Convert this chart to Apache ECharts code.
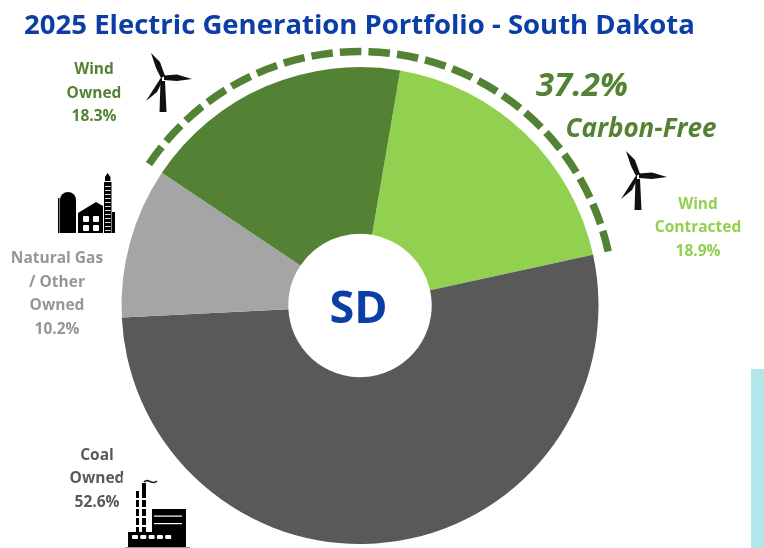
<!DOCTYPE html>
<html>
<head>
<meta charset="utf-8">
<title>2025 Electric Generation Portfolio - South Dakota</title>
<script src="https://cdn.jsdelivr.net/npm/echarts@6/dist/echarts.min.js"></script>
<style>
  html, body { margin: 0; padding: 0; background: #fff; }
  #chart { width: 764px; height: 548px; }
</style>
</head>
<body>
<div id="chart"></div>
<script>
// chart data, clockwise from the top
const categories = ['Wind\nContracted', 'Coal\nOwned', 'Natural Gas\n/ Other\nOwned', 'Wind\nOwned'];
const shares = [18.9, 52.6, 10.2, 18.3];
const carbonFreeShare = '37.2%';
const carbonFreeText = 'Carbon-Free';
const centerText = 'SD';
const titleText = '2025 Electric Generation Portfolio - South Dakota';

// colours and label anchors, same order as categories
const sliceColors = ['#92d050', '#595959', '#a5a5a5', '#548235'];
const labelColors = ['#92d050', '#595959', '#969696', '#548235'];
const labelAnchors = [[698, 228], [97, 479], [57, 294], [94, 93.5]];

const FONT = '"Open Sans", "Noto Sans", sans-serif';
const GREEN = '#548235';
const BLUE = '#0b3fa6';
const CX = 360, CY = 305.5;
const START_COMPASS = 9.7; // first slice starts this many degrees past north

function shape(type, props, fill) {
    return Object.assign({ type: type, silent: true, style: { fill: fill || '#000' } }, props);
}
function box(x, y, w, h, fill, r) {
    return shape('rect', { shape: { x: x, y: y, width: w, height: h, r: r || 0 } }, fill);
}
function poly(points, fill) {
    return shape('polygon', { shape: { points: points } }, fill);
}

// slice labels sit beside the pie, away from their slices
function sliceLabel(i) {
    return {
        type: 'text', silent: true, x: labelAnchors[i][0], y: labelAnchors[i][1],
        style: {
            text: categories[i] + '\n' + shares[i].toFixed(1) + '%',
            fill: labelColors[i],
            font: 'bold 15.5px ' + FONT,
            lineHeight: 23.5,
            textAlign: 'center',
            textVerticalAlign: 'middle'
        }
    };
}

// wind turbine, drawn around its hub
function turbine(x, y) {
    const parts = [
        [[-12, -25], [-3, -16], [2, -2], [-2, 0], [-7, -10]],
        [[1, -2.5], [14, -3.5], [29, 1], [14, 3], [1, 2]],
        [[-1, -1], [-3, 1], [-10, 12], [-17, 23], [-6, 14], [-1, 4]],
        [[-2.5, 3], [2, 3], [3.5, 34], [-3.5, 34]]
    ];
    return {
        type: 'group', x: x, y: y, silent: true,
        children: parts.map(p => poly(p, '#111'))
    };
}

// silo, barn and gas stack
function barnIcon() {
    const kids = [
        box(58, 198, 1.5, 35),
        box(60, 192, 16, 41, '#000', [8, 8, 0, 0]),
        poly([[78, 213], [96, 202], [103, 206], [103, 233], [78, 233]]),
        box(104, 182, 7.5, 51),
        box(112, 212, 3, 21),
        poly([[105, 181], [105, 177], [107.5, 173], [110.5, 177], [110.5, 181]])
    ];
    [[83, 216], [93, 216], [83, 225], [93, 225]].forEach(p => {
        kids.push(box(p[0], p[1], 6, 6, '#fff', 1));
    });
    for (let y = 186; y < 232; y += 4) {
        kids.push(box(105, y, 5.5, 1, '#ddd'));
    }
    return { type: 'group', silent: true, children: kids };
}

// factory with two chimneys
function factoryIcon() {
    const kids = [
        // white backing of the pasted icon clips the label next to it
        box(122.5, 475.5, 6, 11, '#fff'),
        box(152, 509, 34, 38),
        box(154, 515.5, 28, 1.2, '#fff'),
        box(154, 523, 28, 1.2, '#fff'),
        box(128, 532, 47, 15),
        box(125, 547, 65, 1, '#999'),
        box(136, 491, 3, 41),
        box(142, 483, 4, 49)
    ];
    [0, 1, 2, 3, 4].forEach(i => kids.push(box(132 + i * 8.3, 535, 6, 4, '#fff', 1)));
    [498, 507, 516, 525].forEach(y => {
        kids.push(box(136, y, 3, 2, '#fff'));
        kids.push(box(142, y, 4, 2, '#fff'));
    });
    kids.push({
        type: 'bezierCurve', silent: true,
        shape: { x1: 144, y1: 482, x2: 157, y2: 481, cpx1: 148, cpy1: 477, cpx2: 152, cpy2: 486 },
        style: { fill: 'none', stroke: '#222', lineWidth: 1.5 }
    });
    return { type: 'group', silent: true, children: kids };
}

function buildOption() {
    const total = shares.reduce((a, b) => a + b, 0);
    // dashed arc spans the two wind slices (compass degrees -> canvas radians)
    const arcFrom = START_COMPASS - shares[3] / total * 360;
    const arcTo = START_COMPASS + shares[0] / total * 360;
    const toRad = d => (d - 90) * Math.PI / 180;

    return {
        animation: false,
        backgroundColor: '#fff',
        title: {
            text: titleText,
            left: 354.5,
            top: 7,
            textAlign: 'center',
            textStyle: { color: BLUE, fontSize: 27.5, fontWeight: 'bold', fontFamily: FONT }
        },
        series: [{
            type: 'pie',
            center: [CX, CY],
            radius: [71.7, 238.5],
            startAngle: 90 - START_COMPASS,
            clockwise: true,
            silent: true,
            avoidLabelOverlap: false,
            emphasis: { disabled: true },
            label: { show: false },
            labelLine: { show: false },
            data: categories.map((name, i) => ({
                name: name,
                value: shares[i],
                itemStyle: { color: sliceColors[i] }
            }))
        }],
        graphic: [
            {
                type: 'arc', silent: true,
                shape: { cx: CX, cy: CY, r: 254, startAngle: toRad(arcFrom), endAngle: toRad(arcTo), clockwise: true },
                style: { fill: 'none', stroke: GREEN, lineWidth: 7.5, lineDash: [21.5, 7.1] }
            },
            {
                type: 'text', silent: true, x: 358.5, y: 310.5,
                style: { text: centerText, fill: BLUE, font: 'bold 45px ' + FONT, textAlign: 'center', textVerticalAlign: 'middle' }
            },
            {
                type: 'text', silent: true, x: 582, y: 87,
                style: { text: carbonFreeShare, fill: GREEN, font: 'italic bold 33px ' + FONT, textAlign: 'center', textVerticalAlign: 'middle' }
            },
            {
                type: 'text', silent: true, x: 641, y: 130,
                style: { text: carbonFreeText, fill: GREEN, font: 'italic bold 26px ' + FONT, textAlign: 'center', textVerticalAlign: 'middle' }
            },
            sliceLabel(0), sliceLabel(1), sliceLabel(2), sliceLabel(3),
            turbine(163, 78),
            turbine(638, 176),
            barnIcon(),
            factoryIcon(),
            box(751, 369, 13, 179, '#b2e6e8')
        ]
    };
}

const chart = echarts.init(document.getElementById('chart'));
chart.setOption(buildOption());
</script>
</body>
</html>
